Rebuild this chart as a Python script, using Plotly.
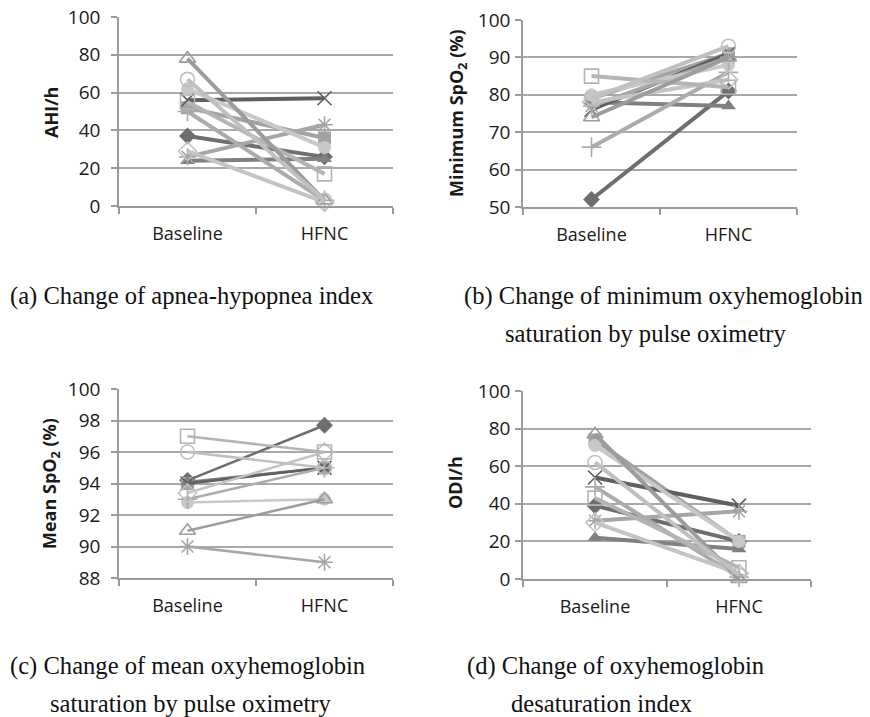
import plotly.graph_objects as go

categories = ["Baseline", "HFNC"]

# series styles (patients) -- marker symbols / grays
patient_ids = ["P1", "P2", "P3", "P4", "P5", "P6", "P7", "P8", "P9", "P10", "P11"]
symbols = ["diamond", "square", "triangle-up", "x-thin-open", "asterisk-open", "circle",
           "cross-thin-open", "diamond-open", "square-open", "triangle-up-open", "circle-open"]
colors = ["#6e6e6e", "#a3a3a3", "#808080", "#5f5f5f", "#a6a6a6", "#c8c8c8",
          "#ababab", "#c4c4c4", "#b4b4b4", "#9c9c9c", "#c0c0c0"]

# (a) AHI/h
ahi_baseline = [37, 52, 24, 56, 26, 62, 50, 29, 55, 78, 67]
ahi_hfnc = [26, 36, 25, 57, 43, 31, 3, 2, 17, 3, 3]

# (b) Minimum SpO2 (%)
minspo2_baseline = [52, 79, 78, 76, 77, 80, 66, 78, 85, 74, 79]
minspo2_hfnc = [81, 91, 77, 91, 90, 88, 86, 84, 82, 90, 93]

# (c) Mean SpO2 (%)
meanspo2_baseline = [94.2, 94.0, 94.1, 94.0, 90.0, 92.8, 93.0, 93.4, 97.0, 91.0, 96.0]
meanspo2_hfnc = [97.7, 95.0, 95.0, 95.0, 89.0, 93.0, 95.0, 96.0, 96.0, 93.0, 95.0]

# (d) ODI/h
odi_baseline = [39, 74, 22, 54, 31, 71, 49, 30, 43, 77, 62]
odi_hfnc = [20, 20, 16, 39, 36, 20, 1, 3, 6, 0, 2]

panels = [
    dict(base=ahi_baseline, hfnc=ahi_hfnc, rng=[0, 100], dtick=20, lw=4),
    dict(base=minspo2_baseline, hfnc=minspo2_hfnc, rng=[50, 100], dtick=10, lw=4),
    dict(base=meanspo2_baseline, hfnc=meanspo2_hfnc, rng=[88, 100], dtick=2, lw=2.5),
    dict(base=odi_baseline, hfnc=odi_hfnc, rng=[0, 100], dtick=20, lw=4),
]

axis_titles = ["<b>AHI/h</b>", "<b>Minimum SpO<sub>2</sub> (%)</b>",
               "<b>Mean SpO<sub>2</sub> (%)</b>", "<b>ODI/h</b>"]

W, H = 870, 717
OFF = 8  # page body margin: figure is drawn 8px in from the window corner


def px(x):
    return (x - OFF) / W


def py(y):
    return 1 - (y - OFF) / H


# plot-area pixel boxes in window coords: (x0, x1, ytop, ybottom)
boxes = [(119, 393, 17, 206), (523, 797, 20, 207), (119, 393, 389, 578), (523, 811, 391, 579)]
title_pos = [(51, 113), (457, 113), (51, 484), (455, 483)]
standoffs = [7, 1, 7, 1]

fig = go.Figure()
for k, p in enumerate(panels):
    ax = "" if k == 0 else str(k + 1)
    for i in range(len(patient_ids)):
        sym = symbols[i]
        is_open = sym.endswith("open")
        fig.add_trace(go.Scatter(
            x=categories, y=[p["base"][i], p["hfnc"][i]],
            mode="lines+markers", name=patient_ids[i], showlegend=False,
            xaxis="x" + ax, yaxis="y" + ax, cliponaxis=False,
            line=dict(color=colors[i], width=p["lw"]),
            marker=dict(symbol=sym, size=13 if not is_open else 14,
                        color=colors[i],
                        line=dict(color=colors[i], width=1.6 if is_open else 0)),
        ))
    x0, x1, yt, yb = boxes[k]
    xd = [px(x0), px(x1)]
    yd = [py(yb), py(yt)]
    fig.layout["xaxis" + ax] = dict(
        domain=xd, anchor="y" + ax, type="category", range=[-0.5, 1.5],
        showline=True, linecolor="#9a9a9a", linewidth=1.5, automargin=False,
        ticks="outside", tickson="boundaries", ticklen=6, tickcolor="#9a9a9a", tickwidth=1.5,
        showgrid=False, zeroline=False,
        tickfont=dict(family="Open Sans", size=18, color="#1a1a1a"),
        ticklabelstandoff=11,
    )
    fig.layout["yaxis" + ax] = dict(
        domain=yd, anchor="x" + ax, range=p["rng"], dtick=p["dtick"], automargin=False,
        showline=True, linecolor="#9a9a9a", linewidth=1.5,
        ticks="outside", ticklen=6, tickcolor="#9a9a9a", tickwidth=1.5,
        showgrid=True, gridcolor="#a8a8a8", gridwidth=1.5, zeroline=False,
        tickfont=dict(family="Open Sans", size=19, color="#1a1a1a"),
        ticklabelstandoff=standoffs[k], ticklabeloverflow="allow",
    )
    tx, ty = title_pos[k]
    fig.add_annotation(x=px(tx), y=py(ty), xref="paper", yref="paper",
                       text=axis_titles[k], textangle=-90, showarrow=False,
                       xanchor="center", yanchor="middle",
                       font=dict(family="Open Sans", size=18, color="#1a1a1a"))

captions = [
    (8, 296, "(a) Change of apnea-hypopnea index"),
    (462, 296, "(b) Change of minimum oxyhemoglobin"),
    (503, 333, "saturation by pulse oximetry"),
    (8, 666, "(c) Change of mean oxyhemoglobin"),
    (48, 703, "saturation by pulse oximetry"),
    (465, 666, "(d) Change of oxyhemoglobin"),
    (509, 703, "desaturation index"),
]
for cx, cy, txt in captions:
    fig.add_annotation(x=px(cx), y=py(cy), xref="paper", yref="paper",
                       text=txt, showarrow=False, xanchor="left", yanchor="middle",
                       font=dict(family="Liberation Serif", size=24.6, color="#111111"))

fig.update_layout(width=W, height=H, margin=dict(l=0, r=0, t=0, b=0, autoexpand=False),
                  paper_bgcolor="white", plot_bgcolor="white")
fig.write_html("out.html")
